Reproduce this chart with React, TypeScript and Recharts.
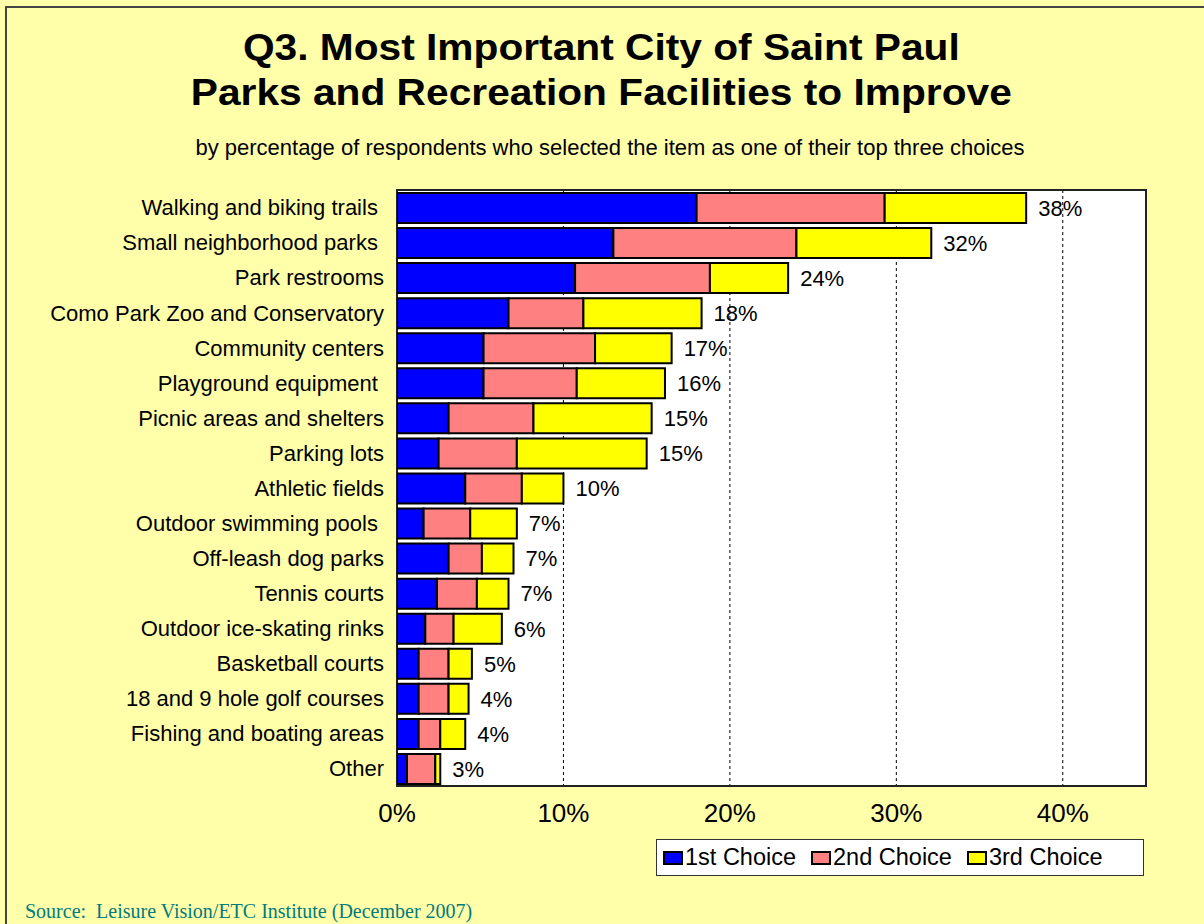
import {
  BarChart,
  Bar,
  XAxis,
  YAxis,
  CartesianGrid,
  ReferenceArea,
  LabelList,
} from "recharts";

const categories = [
  "Walking and biking trails\u00a0",
  "Small neighborhood parks\u00a0",
  "Park restrooms",
  "Como Park Zoo and Conservatory",
  "Community centers",
  "Playground equipment\u00a0",
  "Picnic areas and shelters",
  "Parking lots",
  "Athletic fields",
  "Outdoor swimming pools\u00a0",
  "Off-leash dog parks",
  "Tennis courts",
  "Outdoor ice-skating rinks",
  "Basketball courts",
  "18 and 9 hole golf courses",
  "Fishing and boating areas",
  "Other",
];

const firstChoice = [18.0, 13.0, 10.7, 6.7, 5.2, 5.2, 3.1, 2.5, 4.1, 1.6, 3.1, 2.4, 1.7, 1.3, 1.3, 1.3, 0.6];
const secondChoice = [11.3, 11.0, 8.1, 4.5, 6.7, 5.6, 5.1, 4.7, 3.4, 2.8, 2.0, 2.4, 1.7, 1.8, 1.8, 1.3, 1.7];
const thirdChoice = [8.5, 8.1, 4.7, 7.1, 4.6, 5.3, 7.1, 7.8, 2.5, 2.8, 1.9, 1.9, 2.9, 1.4, 1.2, 1.5, 0.3];
const totalLabels = ["38%", "32%", "24%", "18%", "17%", "16%", "15%", "15%", "10%", "7%", "7%", "7%", "6%", "5%", "4%", "4%", "3%"];

const xTicks = [0, 10, 20, 30, 40];

const series = [
  { key: "first", name: "1st Choice", color: "#0000FF" },
  { key: "second", name: "2nd Choice", color: "#FF8080" },
  { key: "third", name: "3rd Choice", color: "#FFFF00" },
];

const data = categories.map((name, i) => ({
  name,
  first: firstChoice[i],
  second: secondChoice[i],
  third: thirdChoice[i],
  total: totalLabels[i],
}));

const FONT = "'Liberation Sans', Arial, sans-serif";
const BG = "#FFFFAA";

export default function App() {
  return (
    <div
      style={{
        position: "absolute",
        left: 0,
        top: 0,
        width: 1204,
        height: 924,
        background: BG,
        overflow: "hidden",
        fontFamily: FONT,
      }}
    >
      {/* frame edge at top/left */}
      <div
        style={{
          position: "absolute",
          left: 5,
          top: 6,
          width: 1300,
          height: 1000,
          borderTop: "2px solid #444",
          borderLeft: "2px solid #444",
        }}
      />
      <div
        style={{
          position: "absolute",
          top: 25,
          left: 0,
          width: 1204,
          textAlign: "center",
          fontWeight: "bold",
          fontSize: 37,
          lineHeight: "45px",
          color: "#000",
          transform: "scaleX(1.1)",
          transformOrigin: "609px 0",
        }}
      >
        Q3. Most Important City of Saint Paul
        <br />
        Parks and Recreation Facilities to Improve
      </div>
      <div
        style={{
          position: "absolute",
          top: 135,
          left: 0,
          width: 1220,
          textAlign: "center",
          fontSize: 22,
          color: "#000",
        }}
      >
        by percentage of respondents who selected the item as one of their top three choices
      </div>

      <div style={{ position: "absolute", left: 0, top: 0 }}>
        <BarChart
          width={1204}
          height={924}
          data={data}
          layout="vertical"
          margin={{ top: 190, right: 58, left: 0, bottom: 108 }}
          barSize={30}
        >
          <CartesianGrid
            horizontal={false}
            vertical
            fill="#FFFFFF"
            stroke="#000"
            strokeDasharray="3 3"
            verticalValues={[10, 20, 30, 40]}
          />
          <XAxis
            type="number"
            domain={[0, 45]}
            ticks={xTicks}
            tickFormatter={(v) => `${v}%`}
            axisLine={false}
            tickLine={false}
            tickMargin={12}
            height={30}
            tick={{ fontSize: 26, fill: "#000", fontFamily: FONT }}
            allowDataOverflow
          />
          <YAxis
            type="category"
            dataKey="name"
            interval={0}
            width={397}
            axisLine={false}
            tickLine={false}
            tickMargin={7}
            tick={{ fontSize: 22, fill: "#000", fontFamily: FONT }}
          />
          <ReferenceArea
            x1={0}
            x2={45}
            fill="none"
            stroke="#222"
            strokeWidth={2}
            ifOverflow="visible"
          />
          {series.map((s, idx) => (
            <Bar
              key={s.key}
              dataKey={s.key}
              name={s.name}
              stackId="a"
              fill={s.color}
              stroke="#000"
              strokeWidth={2}
              isAnimationActive={false}
            >
              {idx === series.length - 1 && (
                <LabelList
                  dataKey="total"
                  position="right"
                  offset={12}
                  style={{ fontSize: 22, fill: "#000", fontFamily: FONT }}
                />
              )}
            </Bar>
          ))}
        </BarChart>
      </div>

      {/* legend */}
      <div
        style={{
          position: "absolute",
          left: 656,
          top: 839,
          width: 488,
          height: 37,
          background: "#FFFFFF",
          border: "1px solid #333",
          display: "flex",
          alignItems: "center",
          paddingLeft: 6,
          boxSizing: "border-box",
          fontSize: 23.5,
        }}
      >
        {series.map((s) => (
          <span
            key={s.key}
            style={{ display: "inline-flex", alignItems: "center", marginRight: 15 }}
          >
            <span
              style={{
                display: "inline-block",
                width: 20,
                height: 14,
                boxSizing: "border-box",
                background: s.color,
                border: "2px solid #000",
                marginRight: 2,
              }}
            />
            {s.name}
          </span>
        ))}
      </div>

      <div
        style={{
          position: "absolute",
          left: 25,
          top: 900,
          fontFamily: "'Liberation Serif', 'Times New Roman', serif",
          fontSize: 20,
          color: "#007B7B",
        }}
      >
        Source:&nbsp; Leisure Vision/ETC Institute (December 2007)
      </div>
    </div>
  );
}
